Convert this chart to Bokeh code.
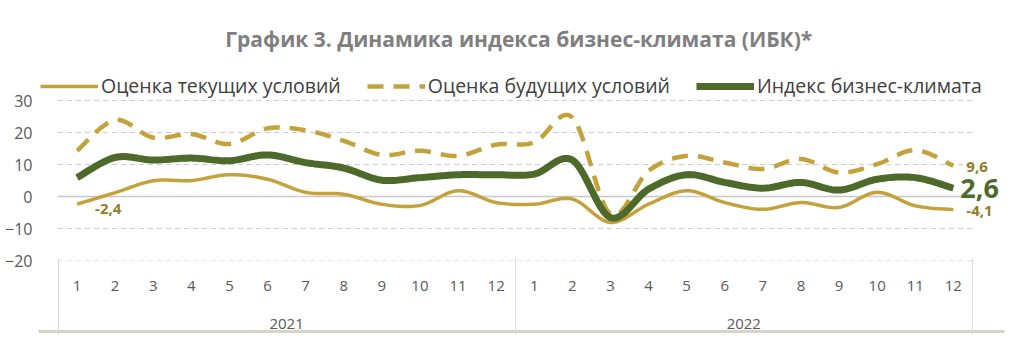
import numpy as np
from bokeh.plotting import figure
from bokeh.models import (Range1d, LinearAxis, FixedTicker, Grid, Legend, LegendItem,
                          ColumnDataSource)
from bokeh.core.properties import value
from bokeh.embed import file_html
from bokeh.resources import INLINE

# ---- data -------------------------------------------------------------
years = ["2021", "2022"]
months = [str(m) for m in range(1, 13)]

current = [-2.4, 1.2, 4.9, 5.0, 6.8, 5.4, 1.3, 0.7, -2.4, -2.8, 1.8, -1.9,
           -2.4, -0.8, -8.1, -2.4, 1.8, -1.9, -4.0, -1.9, -3.4, 1.3, -2.9, -4.1]
future = [14.3, 23.9, 18.4, 19.5, 16.4, 21.3, 20.7, 17.4, 13.0, 14.3, 12.7, 16.2,
          16.9, 24.7, -5.5, 8.0, 12.7, 10.6, 8.6, 11.7, 7.5, 10.1, 14.5, 9.6]
index = [5.9, 12.2, 11.4, 12.0, 11.2, 13.0, 10.6, 8.9, 5.1, 5.9, 6.8, 6.8,
         7.0, 11.4, -6.6, 2.3, 6.8, 4.4, 2.6, 4.4, 2.0, 5.4, 5.9, 2.6]
y_ticks = [-20, -10, 0, 10, 20, 30]

series_names = ["Оценка текущих условий", "Оценка будущих условий", "Индекс бизнес-климата"]
title_text = "График 3. Динамика  индекса бизнес-климата (ИБК)*"

GOLD = "#C4A23B"
GOLD_LABEL = "#8F7D2C"
GREEN = "#4D6A2A"
TXT = "#595959"
FONT = "Open Sans"

n = len(current)
xs = np.arange(1, n + 1, dtype=float)


def smooth(x, y, steps=16):
    """Catmull-Rom (Excel-like smoothed line) through the data points."""
    x = np.asarray(x, float)
    y = np.asarray(y, float)
    px = np.concatenate([[x[0]], x, [x[-1]]])
    py = np.concatenate([[y[0]], y, [y[-1]]])
    ox, oy = [], []
    for i in range(1, len(px) - 2):
        p0 = np.array([px[i - 1], py[i - 1]])
        p1 = np.array([px[i], py[i]])
        p2 = np.array([px[i + 1], py[i + 1]])
        p3 = np.array([px[i + 2], py[i + 2]])
        c1 = p1 + (p2 - p0) / 6.0
        c2 = p2 - (p3 - p1) / 6.0
        t = np.linspace(0, 1, steps, endpoint=(i == len(px) - 3))
        for tt in t:
            b = ((1 - tt) ** 3) * p1 + 3 * ((1 - tt) ** 2) * tt * c1 + 3 * (1 - tt) * tt ** 2 * c2 + tt ** 3 * p2
            ox.append(float(b[0]))
            oy.append(float(b[1]))
    return ox, oy


PX_X = 38.1   # pixels per category
PX_Y = 3.2    # pixels per unit
W = 1008
LEFT, RIGHT, TOP, BOTTOM = 38, 4, 71, 84
FH = 189
H = TOP + FH + BOTTOM
FW = W - LEFT - RIGHT

x_lo = xs[0] - 0.5
x_hi = xs[-1] + 0.5
x_start = x_lo - 19.5 / PX_X
p = figure(width=W, height=H, output_backend="svg", toolbar_location=None,
           x_range=Range1d(x_start, x_start + FW / PX_X),
           y_range=Range1d(-20, -20 + FH / PX_Y),
           x_axis_location=None, y_axis_location=None,
           min_border_left=LEFT, min_border_right=RIGHT,
           min_border_top=TOP, min_border_bottom=BOTTOM)
p.center = [r for r in p.center if not isinstance(r, Grid)]
p.outline_line_color = None
p.background_fill_color = "white"
p.border_fill_color = "white"

# title
p.title.text = title_text
p.title.align = "center"
p.title.text_font = FONT
p.title.text_font_size = "21px"
p.title.text_font_style = "bold"
p.title.text_color = "#7F7F7F"
p.title.standoff = 37

# y axis
yaxis = LinearAxis(ticker=FixedTicker(ticks=y_ticks))
yaxis.axis_line_color = None
yaxis.major_tick_line_color = None
yaxis.minor_tick_line_color = None
yaxis.major_label_text_font = FONT
yaxis.major_label_text_font_size = "16px"
yaxis.major_label_text_color = TXT
yaxis.major_label_standoff = 0
p.add_layout(yaxis, "left")

# month axis
month_ticks = [int(v) for v in xs]
xaxis = LinearAxis(ticker=FixedTicker(ticks=month_ticks))
xaxis.major_label_overrides = {t: months[(t - 1) % 12] for t in month_ticks}
xaxis.axis_line_color = None
xaxis.major_tick_line_color = None
xaxis.minor_tick_line_color = None
xaxis.major_label_text_font = FONT
xaxis.major_label_text_font_size = "15px"
xaxis.major_label_text_color = TXT
xaxis.major_label_standoff = 14
p.add_layout(xaxis, "below")

# year axis (minor ticks = group separators)
year_ticks = [6.5, 18.5]
yrax = LinearAxis(ticker=FixedTicker(ticks=year_ticks, minor_ticks=[x_lo, x_lo + 12, x_hi]))
yrax.major_label_overrides = {t: y for t, y in zip(year_ticks, years)}
yrax.axis_line_color = None
yrax.major_tick_line_color = None
yrax.minor_tick_in = 35
yrax.minor_tick_out = 41
yrax.minor_tick_line_color = "#D9D9D9"
yrax.minor_tick_line_width = 1
yrax.major_label_text_font = FONT
yrax.major_label_text_font_size = "15px"
yrax.major_label_text_color = TXT
yrax.major_label_standoff = -16
p.add_layout(yrax, "below")

# spacer + bottom rule
spacer = LinearAxis(ticker=FixedTicker(ticks=[]))
spacer.axis_line_color = None
spacer.major_tick_line_color = None
spacer.minor_tick_line_color = None
spacer.major_tick_out = 8
spacer.major_label_text_font_size = "0px"
p.add_layout(spacer, "below")

rule = LinearAxis(ticker=FixedTicker(ticks=[]))
rule.axis_line_color = "#D6D4C6"
rule.axis_line_width = 3
rule.major_tick_line_color = None
rule.minor_tick_line_color = None
rule.major_label_text_font_size = "0px"
p.add_layout(rule, "below")

# horizontal grid lines over the category span
gy = [t for t in y_ticks if t != 0]
p.segment(x0=[x_lo] * len(gy), x1=[x_hi] * len(gy), y0=gy, y1=gy,
          line_color="#CDCDCD", line_width=1, line_dash="5 4")
p.segment(x0=[x_lo], x1=[x_hi], y0=[0], y1=[0], line_color="#C8C8C8", line_width=1.5)

# lines
cx, cy = smooth(xs, current)
fx, fy = smooth(xs, future)
ix, iy = smooth(xs, index)
r_cur = p.line(cx, cy, line_color=GOLD, line_width=3.5)
r_fut = p.line(fx, fy, line_color=GOLD, line_width=4.5, line_dash="16 10")
r_idx = p.line(ix, iy, line_color=GREEN, line_width=7)

# data labels
def fmt(v):
    return ("%.1f" % v).replace(".", ",")

src_first = ColumnDataSource(dict(x=[xs[0]], y=[current[0]], t=[fmt(current[0])]))
p.text("x", "y", text="t", source=src_first, x_offset=18, y_offset=5,
       text_font=value(FONT), text_font_size="15px", text_font_style="bold",
       text_color=GOLD_LABEL, text_align="left", text_baseline="middle")

src_last_small = ColumnDataSource(dict(x=[xs[-1], xs[-1]], y=[future[-1], current[-1]],
                                       t=[fmt(future[-1]), fmt(current[-1])]))
p.text("x", "y", text="t", source=src_last_small, x_offset=13, y_offset=1,
       text_font=value(FONT), text_font_size="15px", text_font_style="bold",
       text_color=GOLD_LABEL, text_align="left", text_baseline="middle")

src_last_idx = ColumnDataSource(dict(x=[xs[-1]], y=[index[-1]], t=[fmt(index[-1])]))
p.text("x", "y", text="t", source=src_last_idx, x_offset=7, y_offset=0,
       text_font=value(FONT), text_font_size="27px", text_font_style="bold",
       text_color=GREEN, text_align="left", text_baseline="middle")

# legend
legend = Legend(items=[LegendItem(label=series_names[0], renderers=[r_cur]),
                       LegendItem(label=series_names[1], renderers=[r_fut]),
                       LegendItem(label=series_names[2], renderers=[r_idx])],
                orientation="horizontal", location=(2, 161))
legend.label_text_font = FONT
legend.label_text_font_size = "19.5px"
legend.label_text_color = "#404040"
legend.glyph_width = 58
legend.label_standoff = 3
legend.spacing = 26
legend.padding = 0
legend.margin = 0
legend.border_line_color = None
legend.background_fill_alpha = 0
p.add_layout(legend)

open("out.html", "w").write(file_html(p, INLINE))
